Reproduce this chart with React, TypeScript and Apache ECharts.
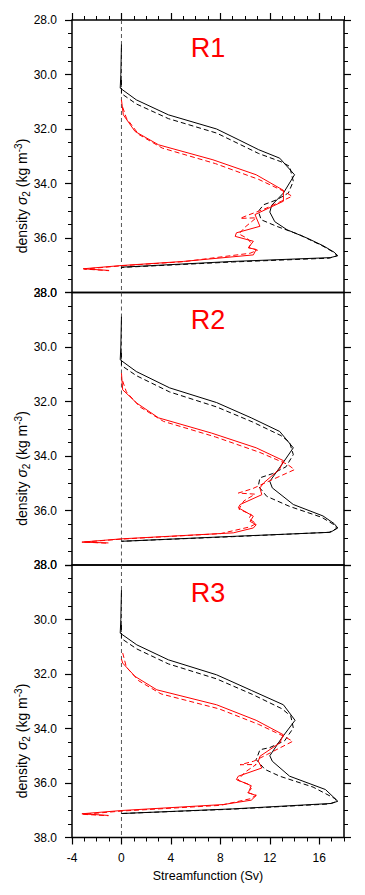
import React, { useEffect, useRef } from "react";
import * as echarts from "echarts";

type P = [number, number];

const panelTitles = ["R1", "R2", "R3"];
const xTicks = [-4, 0, 4, 8, 12, 16];
const yTicks = [28, 30, 32, 34, 36, 38];
const zeroLine: P[] = [[0, 28], [0, 38]];

// Panel R1
const r1BlackSolid: P[] = [
  [0, 28.9], [-0.05, 30.0], [-0.1, 30.5], [1.2, 30.93], [3.8, 31.48], [7.7, 32.0], [9.5, 32.4],
  [11.1, 32.76], [12.8, 33.07], [14.0, 33.68], [13.1, 34.35], [12.15, 34.8], [12.0, 35.05],
  [12.4, 35.4], [13.4, 35.7], [15.0, 36.0], [16.3, 36.28], [17.2, 36.52], [17.5, 36.65], [16.9, 36.72],
  [9.0, 36.86], [0, 37.07], [0, 37.12],
];
const r1BlackDashed: P[] = [
  [0, 30.2], [0, 30.7], [1.2, 31.08], [3.8, 31.62], [7.7, 32.15], [11.1, 32.9], [12.9, 33.2],
  [13.6, 33.37], [13.9, 33.92], [13.5, 34.35], [12.55, 34.6], [11.5, 34.78], [11.07, 35.02],
  [11.3, 35.33], [12.55, 35.57], [14.4, 35.88], [16.3, 36.3], [17.3, 36.56], [17.4, 36.66],
  [16.8, 36.74], [9.0, 36.88], [0, 37.08],
];
const r1RedSolid: P[] = [
  [0, 30.93], [0.15, 31.48], [1.1, 32.09], [3.0, 32.58], [7.4, 33.13], [10.9, 33.68],
  [13.1, 34.25], [13.1, 34.65], [10.8, 35.14], [11.2, 35.57], [9.3, 35.81], [9.2, 35.94],
  [10.67, 36.12], [10.26, 36.36], [10.9, 36.42], [10.67, 36.62], [5.0, 36.86], [0, 37.01],
  [-3.1, 37.13], [-1.0, 37.19],
];
const r1RedDashed: P[] = [
  [0.1, 31.2], [0.4, 31.6], [1.4, 32.2], [3.3, 32.7], [7.6, 33.27], [11.1, 33.85], [13.2, 34.3],
  [13.8, 34.47], [11.5, 34.95], [10.3, 35.15], [9.6, 35.28], [10.9, 35.26], [10.0, 35.6],
  [9.5, 35.85], [10.2, 36.02], [10.5, 36.2], [10.3, 36.35], [11.0, 36.45], [10.4, 36.56],
  [5.0, 36.87], [0, 37.02], [-3.0, 37.14], [-1.0, 37.2],
];

// Panel R2
const r2BlackSolid: P[] = [
  [0, 28.89], [-0.05, 30.0], [-0.1, 30.47], [1.2, 30.9], [3.9, 31.5], [7.7, 32.04], [10.5, 32.6],
  [12.8, 33.1], [13.9, 33.7], [12.96, 34.32], [12.0, 34.93], [12.2, 35.17], [13.9, 35.78],
  [16.3, 36.2], [17.2, 36.48], [17.5, 36.64], [16.9, 36.8], [9.0, 36.95], [0, 37.13],
];
const r2BlackDashed: P[] = [
  [0, 30.2], [0, 30.68], [1.2, 31.05], [3.9, 31.65], [7.7, 32.2], [10.6, 32.75], [12.9, 33.25],
  [13.6, 33.5], [13.9, 33.95], [13.3, 34.4], [12.2, 34.65], [11.2, 34.8], [11.07, 35.1],
  [11.75, 35.48], [13.6, 35.85], [16.2, 36.25], [17.3, 36.55], [17.4, 36.66], [16.8, 36.8],
  [9.0, 36.96], [0, 37.13],
];
const r2RedSolid: P[] = [
  [0, 30.96], [0.1, 31.57], [1.24, 32.06], [3.0, 32.6], [7.3, 33.16], [10.9, 33.7], [13.1, 34.17],
  [12.8, 34.48], [11.5, 34.99], [11.2, 35.17], [11.35, 35.42], [9.6, 35.78], [9.45, 35.9],
  [10.67, 36.21], [10.4, 36.4], [10.9, 36.52], [10.67, 36.64], [9.05, 36.82], [0, 37.04],
  [-3.2, 37.16], [-1.05, 37.19],
];
const r2RedDashed: P[] = [
  [0.1, 31.25], [0.4, 31.65], [1.5, 32.2], [3.4, 32.73], [7.6, 33.3], [11.2, 33.87], [13.4, 34.3],
  [14.0, 34.5], [11.8, 34.95], [10.6, 35.2], [9.45, 35.36], [10.8, 35.4], [9.9, 35.65],
  [9.5, 35.95], [10.5, 36.15], [10.3, 36.3], [10.9, 36.48], [10.4, 36.6], [8.0, 36.85],
  [0, 37.05], [-3.1, 37.16], [-1.05, 37.2],
];

// Panel R3
const r3BlackSolid: P[] = [
  [0, 28.92], [-0.05, 30.0], [-0.1, 30.5], [1.24, 30.93], [3.8, 31.48], [7.7, 32.03], [10.5, 32.6],
  [13.1, 33.13], [14.04, 33.7], [12.96, 34.35], [12.0, 35.0], [12.2, 35.2], [13.6, 35.75],
  [16.5, 36.24], [17.5, 36.67], [16.97, 36.75], [9.0, 36.95], [0, 37.12],
];
const r3BlackDashed: P[] = [
  [0, 30.2], [0, 30.7], [1.24, 31.08], [3.8, 31.63], [7.7, 32.18], [10.6, 32.75], [13.0, 33.28],
  [13.7, 33.55], [13.9, 33.98], [13.2, 34.45], [12.0, 34.7], [11.2, 34.78], [10.9, 35.14],
  [11.6, 35.5], [12.8, 35.75], [15.5, 36.15], [17.3, 36.58], [17.4, 36.68], [16.8, 36.77],
  [9.0, 36.96], [0, 37.12],
];
const r3RedSolid: P[] = [
  [0, 31.45], [0.1, 31.6], [1.1, 32.09], [2.86, 32.58], [7.7, 33.13], [10.9, 33.7], [13.1, 34.23],
  [12.8, 34.53], [11.2, 35.02], [11.07, 35.2], [11.35, 35.45], [9.45, 35.75], [9.3, 35.87],
  [10.5, 36.1], [10.26, 36.36], [10.9, 36.46], [10.5, 36.63], [8.25, 36.79], [0, 37.01],
  [-3.2, 37.13], [-1.05, 37.19],
];
const r3RedDashed: P[] = [
  [0.1, 31.23], [0.4, 31.75], [1.4, 32.25], [3.2, 32.73], [7.9, 33.28], [11.1, 33.85], [13.2, 34.3],
  [13.85, 34.47], [11.8, 34.95], [10.7, 35.2], [9.6, 35.33], [10.9, 35.32], [10.0, 35.6],
  [9.4, 35.9], [10.3, 36.05], [10.5, 36.22], [10.2, 36.35], [10.9, 36.45], [10.4, 36.58],
  [8.0, 36.82], [0, 37.03], [-3.1, 37.15], [-1.05, 37.2],
];

const panels = [
  { blackSolid: r1BlackSolid, blackDashed: r1BlackDashed, redSolid: r1RedSolid, redDashed: r1RedDashed },
  { blackSolid: r2BlackSolid, blackDashed: r2BlackDashed, redSolid: r2RedSolid, redDashed: r2RedDashed },
  { blackSolid: r3BlackSolid, blackDashed: r3BlackDashed, redSolid: r3RedSolid, redDashed: r3RedDashed },
];

const FONT = "'Liberation Sans', Arial, Helvetica, sans-serif";
const GRID_LEFT = 72;
const GRID_WIDTH = 272;
const GRID_HEIGHT = 272.5;
const GRID_TOPS = [20, 292.5, 565];

export default function App() {
  const ref = useRef<HTMLDivElement>(null);

  useEffect(() => {
    if (!ref.current) return;
    const chart = echarts.init(ref.current, undefined, { renderer: "svg" });

    const grids: any[] = [];
    const xAxes: any[] = [];
    const yAxes: any[] = [];
    const series: any[] = [];
    const graphics: any[] = [];

    panels.forEach((p, i) => {
      grids.push({
        left: GRID_LEFT,
        top: GRID_TOPS[i],
        width: GRID_WIDTH,
        height: GRID_HEIGHT,
        show: true,
        borderColor: "#000",
        borderWidth: 1.5,
        backgroundColor: "transparent",
      });
      const showX = i !== 1;
      const pos = i === 0 ? "top" : "bottom";
      const xMainIndex = xAxes.length;
      xAxes.push({
        gridIndex: i,
        type: "value",
        min: -4,
        max: 18,
        position: pos,
        show: showX,
        axisLine: { show: false, onZero: false },
        axisTick: { show: true, customValues: xTicks, length: 7, lineStyle: { color: "#000", width: 1.2 } },
        axisLabel: {
          show: i === 2,
          customValues: xTicks,
          margin: 14,
          fontSize: 12,
          color: "#000",
          fontFamily: FONT,
        },
        splitLine: { show: false },
        name: i === 2 ? "Streamfunction (Sv)" : "",
        nameLocation: "middle",
        nameGap: 32,
        nameTextStyle: { fontSize: 12.5, color: "#000", fontFamily: FONT },
      });
      xAxes.push({
        gridIndex: i,
        type: "value",
        min: -4,
        max: 18,
        interval: 1,
        position: pos,
        show: showX,
        axisLine: { show: false, onZero: false },
        axisTick: { show: true, length: 4, lineStyle: { color: "#000", width: 1 } },
        axisLabel: { show: false },
        splitLine: { show: false },
      });
      const yLeftIndex = yAxes.length;
      const yCommon = {
        gridIndex: i,
        type: "value",
        min: 28,
        max: 38,
        interval: 2,
        inverse: true,
        axisLine: { show: false, onZero: false },
        axisTick: { show: true, length: 7, lineStyle: { color: "#000", width: 1.2 } },
        minorTick: { show: true, splitNumber: 4, length: 4, lineStyle: { color: "#000", width: 1 } },
        splitLine: { show: false },
        minorSplitLine: { show: false },
      };
      yAxes.push({
        ...yCommon,
        position: "left",
        axisLabel: {
          show: true,
          margin: 15,
          fontSize: 12,
          color: "#000",
          fontFamily: FONT,
          formatter: (v: number) => v.toFixed(1),
        },
      });
      yAxes.push({
        ...yCommon,
        position: "right",
        axisLabel: { show: false },
      });

      const base = { type: "line", xAxisIndex: xMainIndex, yAxisIndex: yLeftIndex, symbol: "none", showSymbol: false, silent: true, clip: true };
      series.push({ ...base, data: zeroLine, lineStyle: { color: "#444", width: 0.9, type: [4, 3] } });
      series.push({ ...base, data: p.blackDashed, lineStyle: { color: "#000", width: 1, type: [5, 3] } });
      series.push({ ...base, data: p.blackSolid, lineStyle: { color: "#000", width: 1, type: "solid" } });
      series.push({ ...base, data: p.redDashed, lineStyle: { color: "#ff0000", width: 1, type: [5, 3] } });
      series.push({ ...base, data: p.redSolid, lineStyle: { color: "#ff0000", width: 1, type: "solid" } });

      graphics.push({
        type: "text",
        x: GRID_LEFT + GRID_WIDTH / 2,
        y: GRID_TOPS[i] + 27.5,
        style: {
          text: panelTitles[i],
          fill: "#ff0000",
          fontSize: 27,
          fontFamily: FONT,
          align: "center",
          verticalAlign: "middle",
        },
      });
      graphics.push({
        type: "text",
        x: 22,
        y: GRID_TOPS[i] + 176,
        rotation: Math.PI / 2,
        style: {
          text: "density {s|σ}{sub|2} (kg m{sup|-3})",
          fill: "#000",
          fontSize: 14,
          fontFamily: FONT,
          align: "center",
          verticalAlign: "middle",
          lineHeight: 18,
          rich: {
            s: { fontSize: 14, fontStyle: "italic", fontFamily: FONT, fill: "#000", lineHeight: 18 },
            sub: { fontSize: 10, fontFamily: FONT, fill: "#000", lineHeight: 10, verticalAlign: "bottom" },
            sup: { fontSize: 10, fontFamily: FONT, fill: "#000", lineHeight: 10, verticalAlign: "top" },
          },
        },
      });
    });

    chart.setOption({
      animation: false,
      backgroundColor: "#fff",
      grid: grids,
      xAxis: xAxes,
      yAxis: yAxes,
      series,
      graphic: graphics,
    });

    return () => chart.dispose();
  }, []);

  return <div ref={ref} style={{ width: 365, height: 895, position: "absolute", left: 0, top: 0 }} />;
}
